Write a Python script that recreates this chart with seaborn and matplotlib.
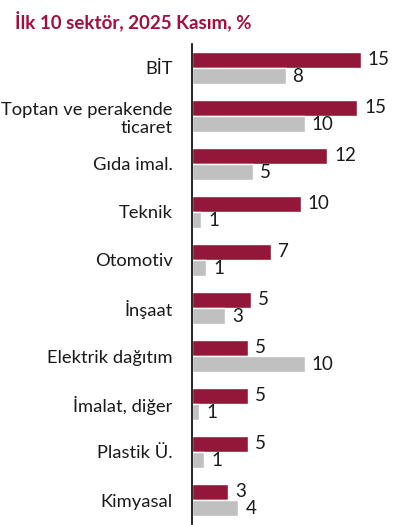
import matplotlib
matplotlib.use("Agg")
import matplotlib.pyplot as plt
import seaborn as sns
import pandas as pd

sectors = ["BİT", "Toptan ve perakende\nticaret", "Gıda imal.", "Teknik", "Otomotiv",
           "İnşaat", "Elektrik dağıtım", "İmalat, diğer", "Plastik Ü.", "Kimyasal"]
series_names = ["2025 Kasım", "Karşılaştırma"]
values_red = [14.9, 14.6, 11.95, 9.6, 7.0, 5.2, 4.9, 4.9, 4.9, 3.2]
values_gray = [8.25, 9.95, 5.4, 0.8, 1.25, 2.9, 9.95, 0.65, 1.1, 4.1]

RED = "#A6032F"
GRAY = "#C0C0C0"

sns.set_theme(style="white")
plt.rcParams["font.family"] = ["Lato", "DejaVu Sans"]

df = pd.DataFrame({
    "sector": sectors * 2,
    "series": [series_names[0]] * len(sectors) + [series_names[1]] * len(sectors),
    "value": values_red + values_gray,
})

fig = plt.figure(figsize=(3.96, 5.25), dpi=100)
ax = fig.add_axes([192 / 396, 1 / 525, 1 - 192 / 396, 480 / 525])

sns.barplot(data=df, y="sector", x="value", hue="series", orient="h",
            palette=[RED, GRAY], width=0.68, gap=0.05, legend=False, ax=ax)

for container in ax.containers:
    ax.bar_label(container, labels=[f"{v:.0f}" for v in container.datavalues],
                 padding=5, fontsize=13.5, color="#1a1a1a")

ax.set_xlim(0, 18)
ax.set_ylim(9.5, -0.5)
ax.set_xlabel("")
ax.set_ylabel("")
ax.set_xticks([])
for s in ["top", "right", "bottom"]:
    ax.spines[s].set_visible(False)
ax.spines["left"].set_color("#000000")
ax.spines["left"].set_linewidth(1.2)
ax.tick_params(axis="y", length=0, pad=14, labelsize=13.2, labelcolor="#1a1a1a")
for lab in ax.get_yticklabels():
    lab.set_horizontalalignment("right")
    lab.set_multialignment("right")
    lab.set_linespacing(1.2)

fig.text(15 / 396, 1 - 22 / 525, "İlk 10 sektör, 2025 Kasım, %", fontsize=13.5,
         fontweight="bold", color="#A50E3C", va="center", ha="left")

fig.savefig("out.png", dpi=100)
